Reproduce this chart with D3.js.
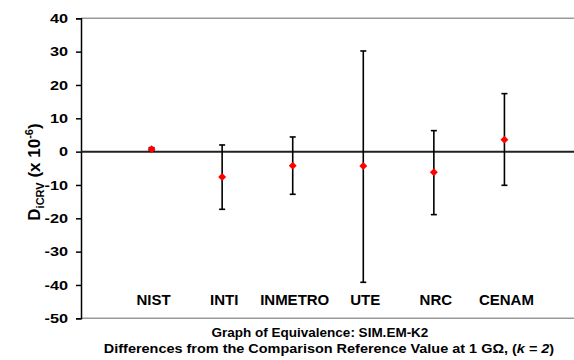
<!DOCTYPE html>
<html>
<head>
<meta charset="utf-8">
<script src="https://cdn.jsdelivr.net/npm/d3@7"></script>
<style>
  body { margin: 0; background: #fff; }
  svg { display: block; font-family: Arial, "Liberation Sans", sans-serif; }
</style>
</head>
<body>
<svg width="574" height="360"></svg>
<script>
// data
var labs = ["NIST", "INTI", "INMETRO", "UTE", "NRC", "CENAM"];
var vals = [0.7, -7.6, -4.2, -4.3, -6.2, 3.6];
var upper = [1.2, 2.0, 4.4, 30.2, 6.3, 17.4];
var lower = [0.2, -17.3, -12.8, -39.2, -18.9, -10.1];
var yTicks = [40, 30, 20, 10, 0, -10, -20, -30, -40, -50];

var svg = d3.select("svg");

// scales
var x = d3.scaleLinear().domain([0, 7]).range([81, 575]);
var y = d3.scaleLinear().domain([-50, 40]).range([318.3, 18.3]);

// widen text a bit, the original picture is stretched sideways
function stretch(sel, k) {
  sel.each(function() {
    var w = this.getComputedTextLength();
    d3.select(this).attr("textLength", w * k).attr("lengthAdjust", "spacingAndGlyphs");
  });
}

// top and bottom border of the plot area
svg.append("line").attr("x1", 81).attr("x2", 574)
  .attr("y1", y(40)).attr("y2", y(40))
  .attr("stroke", "#999").attr("stroke-width", 1.5);
svg.append("line").attr("x1", 81).attr("x2", 574)
  .attr("y1", y(-50)).attr("y2", y(-50))
  .attr("stroke", "#999").attr("stroke-width", 1.5);

// y axis
var yAxis = d3.axisLeft(y).tickValues(yTicks).tickSize(5).tickPadding(8)
  .tickFormat(function(d) { return String(d); });
var ga = svg.append("g").attr("transform", "translate(81,0)").call(yAxis);
ga.select(".domain").attr("stroke", "#000").attr("stroke-width", 1.5);
ga.selectAll(".tick line").attr("stroke", "#000").attr("stroke-width", 1.5);
ga.selectAll(".tick text")
  .attr("font-size", 13).attr("font-weight", "bold").attr("fill", "#000")
  .attr("font-family", "Arial, 'Liberation Sans', sans-serif");
stretch(ga.selectAll(".tick text"), 1.25);

// zero line
svg.append("line").attr("x1", 81).attr("x2", 574)
  .attr("y1", y(0)).attr("y2", y(0))
  .attr("stroke", "#222").attr("stroke-width", 2);

// error bars
var bars = svg.selectAll(".err").data(labs).enter().append("g").attr("class", "err");
bars.append("line")
  .attr("x1", function(d, i) { return x(i + 1); })
  .attr("x2", function(d, i) { return x(i + 1); })
  .attr("y1", function(d, i) { return y(upper[i]); })
  .attr("y2", function(d, i) { return y(lower[i]); })
  .attr("stroke", "#000").attr("stroke-width", 1.6);
bars.append("line")
  .attr("x1", function(d, i) { return x(i + 1) - 3; })
  .attr("x2", function(d, i) { return x(i + 1) + 3; })
  .attr("y1", function(d, i) { return y(upper[i]); })
  .attr("y2", function(d, i) { return y(upper[i]); })
  .attr("stroke", "#000").attr("stroke-width", 1.6);
bars.append("line")
  .attr("x1", function(d, i) { return x(i + 1) - 3; })
  .attr("x2", function(d, i) { return x(i + 1) + 3; })
  .attr("y1", function(d, i) { return y(lower[i]); })
  .attr("y2", function(d, i) { return y(lower[i]); })
  .attr("stroke", "#000").attr("stroke-width", 1.6);

// red diamonds
var diamond = d3.symbol().type(d3.symbolDiamond2).size(40);
svg.selectAll(".pt").data(vals).enter().append("path")
  .attr("class", "pt")
  .attr("d", diamond)
  .attr("transform", function(d, i) { return "translate(" + x(i + 1) + "," + y(d) + ")"; })
  .attr("fill", "#ff0000");

// category labels
svg.selectAll(".lab").data(labs).enter().append("text")
  .attr("class", "lab")
  .attr("x", function(d, i) { return x(i + 1) + 2; })
  .attr("y", 305)
  .attr("text-anchor", "middle")
  .attr("font-size", 15).attr("font-weight", "bold")
  .text(function(d) { return d; });

// y axis title
var yt = svg.append("text")
  .attr("transform", "translate(40,172) rotate(-90)")
  .attr("text-anchor", "middle")
  .attr("font-size", 17).attr("font-weight", "bold");
yt.append("tspan").text("D");
yt.append("tspan").attr("font-size", 11).attr("dy", 4).text("iCRV");
yt.append("tspan").attr("dy", -4).text(" (x 10");
yt.append("tspan").attr("font-size", 11).attr("dy", -7).text("-6");
yt.append("tspan").attr("dy", 7).text(")");

// caption
svg.append("text").attr("x", 320).attr("y", 337)
  .attr("text-anchor", "middle").attr("font-size", 13.5).attr("font-weight", "bold")
  .text("Graph of Equivalence: SIM.EM-K2");
var cap = svg.append("text").attr("x", 329).attr("y", 353)
  .attr("text-anchor", "middle").attr("font-size", 13.5).attr("font-weight", "bold");
cap.append("tspan").text("Differences from the Comparison Reference Value at 1 G\u03A9, (");
cap.append("tspan").attr("font-style", "italic").text("k = 2");
cap.append("tspan").text(")");
stretch(cap, 1.07);
</script>
</body>
</html>
